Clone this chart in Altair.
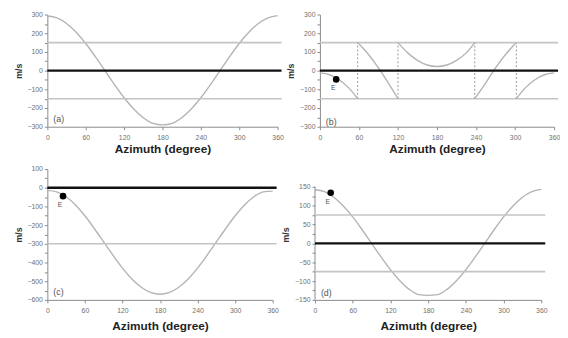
import altair as alt
import pandas as pd

# ---------------- data ----------------
az = [0, 15, 30, 45, 60, 75, 90, 105, 120, 135, 150, 165, 180,
      195, 210, 225, 240, 255, 270, 285, 300, 315, 330, 345, 360]

a_vals = [292, 282, 252, 205, 145, 75, 0, -75, -145, -205, -252, -282, -290,
          -282, -252, -205, -145, -75, 0, 75, 145, 205, 252, 282, 294]

c_vals = [-14, -22, -48, -92, -150, -218, -290, -362, -430, -488, -532, -560, -570,
          -560, -532, -488, -430, -362, -290, -218, -150, -92, -48, -22, -18]

d_vals = [142, 137, 122, 99, 70, 36, 0, -36, -70, -99, -122, -136, -138,
          -136, -122, -99, -70, -36, 0, 36, 70, 99, 122, 137, 143]

b_az = [0, 15, 30, 45, 58,
        58, 75, 90, 105, 120,
        120, 135, 150, 165, 180, 195, 210, 225, 238,
        238, 255, 270, 285, 302,
        302, 315, 330, 345, 360]
b_vals = [-12, -22, -50, -95, -150,
          150, 85, 15, -65, -150,
          150, 95, 55, 30, 22, 30, 55, 95, 150,
          -150, -65, 15, 85, 150,
          -150, -95, -50, -22, -12]
b_seg = [1] * 5 + [2] * 5 + [3] * 9 + [4] * 5 + [5] * 5

fold_az = [58, 120, 238, 302]
fold_lo = -150
fold_hi = 150

point_az = 25
b_point = -47
c_point = -45
d_point = 134
point_label = "E"

x_ticks = [0, 60, 120, 180, 240, 300, 360]
ab_ticks = [-300, -250, -200, -150, -100, -50, 0, 50, 100, 150, 200, 250, 300]
c_ticks = [-600, -550, -500, -450, -400, -350, -300, -250, -200, -150, -100,
           -50, 0, 50, 100]
d_ticks = [-150, -125, -100, -75, -50, -25, 0, 25, 50, 75, 100, 125, 150]

# ---------------- styling ----------------
CURVE = "#b4b4b4"
REF = "#c4c4c4"
AXIS = "#8a8a8a"
LABEL = "#707070"


def panel(width, height, xs, ys, ydomain, yticks, step, refs, tag, seg=None,
          point=None, folds=None, axis_rule=None, tag_y=None, tpad=3):
    xscale = alt.Scale(domain=[0, 360], nice=False)
    yscale = alt.Scale(domain=ydomain, nice=False, zero=False)
    xaxis = alt.Axis(values=x_ticks, title="Azimuth (degree)",
                     titleFontSize=12, titleFontWeight="bold",
                     titleColor="#222",
                     labelFontSize=7, labelColor=LABEL,
                     labelOverlap=False, labelFlush=False,
                     tickSize=3, tickColor=AXIS, domainColor=AXIS,
                     grid=False, labelPadding=4, titlePadding=tpad)
    yaxis = alt.Axis(values=yticks, title="m/s", titleFontSize=9,
                     titleFontWeight="bold", titleColor="#333",
                     labelFontSize=7, labelColor=LABEL, tickSize=3,
                     labelOverlap=False, labelFlush=False,
                     labelExpr=f"abs(datum.value) % {step} == 0 ? datum.label : ''",
                     tickColor=AXIS, domainColor=AXIS, grid=False,
                     domain=axis_rule is None,
                     labelPadding=2, titlePadding=4)

    def X(f):
        return alt.X(f, scale=xscale, axis=xaxis)

    def Y(f):
        return alt.Y(f, scale=yscale, axis=yaxis)

    curve_df = pd.DataFrame({"az": xs, "v": ys})
    enc = dict(x=X("az:Q"), y=Y("v:Q"))
    if seg is not None:
        curve_df["seg"] = seg
        enc["detail"] = "seg:N"
    layers = []
    ref_df = pd.DataFrame({"v": [r[0] for r in refs], "kind": [r[1] for r in refs]})
    gray = alt.Chart(ref_df[ref_df.kind == "g"]).mark_rule(
        color=REF, strokeWidth=1.6).encode(
        y=Y("v:Q"), x=alt.value(0), x2=alt.value(width + 4))
    black = alt.Chart(ref_df[ref_df.kind == "k"]).mark_rule(
        color="#111", strokeWidth=2.4).encode(
        y=Y("v:Q"), x=alt.value(0), x2=alt.value(width + 4))
    curve = alt.Chart(curve_df).mark_line(
        color=CURVE, strokeWidth=1.4, interpolate="monotone").encode(**enc)
    layers.append(curve)
    if axis_rule is not None:
        ax_df = pd.DataFrame({"v": [axis_rule[0]], "v2": [axis_rule[1]]})
        layers.append(alt.Chart(ax_df).mark_rule(color=AXIS, strokeWidth=1).encode(
            x=alt.value(0), y=Y("v:Q"), y2="v2:Q"))
    layers.append(gray)
    if folds is not None:
        f_df = pd.DataFrame({"az": folds, "lo": [fold_lo] * len(folds),
                             "hi": [fold_hi] * len(folds)})
        layers.append(alt.Chart(f_df).mark_rule(
            color="#9a9a9a", strokeWidth=1, strokeDash=[2, 2]).encode(
            x=X("az:Q"), y=Y("lo:Q"), y2="hi:Q"))
    layers.append(black)
    if point is not None:
        p_df = pd.DataFrame({"az": [point_az], "v": [point], "t": [point_label]})
        layers.append(alt.Chart(p_df).mark_circle(
            color="#000", size=45, opacity=1).encode(x=X("az:Q"), y=Y("v:Q")))
        layers.append(alt.Chart(p_df).mark_text(
            fontSize=7, color="#555", dx=-3, dy=9).encode(
            x=X("az:Q"), y=Y("v:Q"), text="t:N"))
    tag_df = pd.DataFrame({"t": [tag]})
    layers.append(alt.Chart(tag_df).mark_text(
        fontSize=9, color="#555", align="left").encode(
        x=alt.value(6), y=alt.value(tag_y), text="t:N"))
    return alt.layer(*layers).properties(width=width, height=height)


a = panel(234, 114, az, a_vals, [-300, 300], ab_ticks, 100,
          [(0, "k"), (150, "g"), (-150, "g")], "(a)", tag_y=106)
b = panel(238, 114, b_az, b_vals, [-300, 300], ab_ticks, 100,
          [(0, "k"), (150, "g"), (-150, "g")], "(b)", seg=b_seg,
          point=b_point, folds=fold_az, tag_y=109)
c = panel(229, 133, az, c_vals, [-600, 100], c_ticks, 100,
          [(0, "k"), (-300, "g")], "(c)", point=c_point, tag_y=125, tpad=7)
d = panel(230, 133, az, d_vals, [-150, 197], d_ticks, 50,
          [(0, "k"), (75, "g"), (-75, "g")], "(d)", point=d_point,
          axis_rule=(-150, 150), tag_y=126, tpad=7)

top = alt.hconcat(a, b, spacing=3)
bottom = alt.hconcat(c, d, spacing=3)
chart = alt.vconcat(top, bottom, spacing=11).properties(
    padding={"left": 6, "top": 0, "right": 0, "bottom": 0},
    background="white",
).configure_view(stroke=None).configure_axis(
    labelFont="Arial", titleFont="Arial", labelOverlap=False)

chart.save("out.html", embed_options={"renderer": "svg", "actions": False})
